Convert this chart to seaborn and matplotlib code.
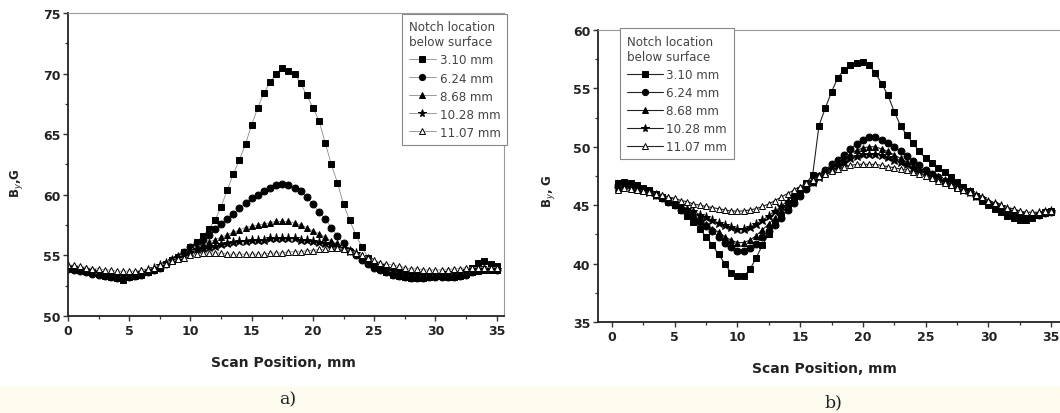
import numpy as np
import pandas as pd
import matplotlib
matplotlib.use("Agg")
import matplotlib.pyplot as plt
from matplotlib.patches import Rectangle
import seaborn as sns

# ---------------- data ----------------
series_labels = ["3.10 mm", "6.24 mm", "8.68 mm", "10.28 mm", "11.07 mm"]
legend_title = "Notch location\nbelow surface"

# panel a) scan positions (mm) and B_y (G)
x_a = np.arange(0.0, 35.01, 0.5)
a_310 = [54.0, 53.9, 53.8, 53.7, 53.6, 53.5, 53.3, 53.2, 53.1, 53.0,
         53.2, 53.3, 53.4, 53.6, 53.8, 54.0, 54.3, 54.6, 54.9, 55.3,
         55.7, 56.1, 56.6, 57.2, 57.9, 59.0, 60.4, 61.7, 62.9, 64.2,
         65.8, 67.2, 68.4, 69.3, 70.0, 70.5, 70.2, 70.0, 69.2, 68.2,
         67.2, 66.1, 64.3, 62.5, 61.0, 59.2, 57.9, 56.7, 55.7, 54.8,
         54.3, 53.9, 53.6, 53.4, 53.3, 53.2, 53.1, 53.1, 53.1, 53.2,
         53.3, 53.3, 53.2, 53.2, 53.3, 53.6, 54.0, 54.4, 54.5, 54.3, 54.1]
a_624 = [53.9, 53.8, 53.7, 53.6, 53.5, 53.4, 53.3, 53.2, 53.1, 53.1,
         53.2, 53.3, 53.4, 53.6, 53.8, 54.0, 54.3, 54.6, 54.9, 55.3,
         55.7, 56.0, 56.3, 56.7, 57.2, 57.6, 58.0, 58.4, 58.9, 59.3,
         59.7, 60.0, 60.3, 60.6, 60.8, 60.9, 60.8, 60.6, 60.3, 59.8,
         59.2, 58.6, 58.0, 57.3, 56.6, 56.0, 55.4, 55.0, 54.6, 54.3,
         54.0, 53.8, 53.6, 53.4, 53.3, 53.2, 53.1, 53.1, 53.1, 53.2,
         53.2, 53.2, 53.2, 53.2, 53.3, 53.4, 53.6, 53.8, 53.9, 53.9, 53.8]
a_868 = [54.0, 53.9, 53.8, 53.7, 53.6, 53.5, 53.4, 53.3, 53.3, 53.2,
         53.3, 53.4, 53.5, 53.7, 53.9, 54.1, 54.3, 54.6, 54.9, 55.2,
         55.5, 55.7, 55.9, 56.1, 56.3, 56.5, 56.7, 56.9, 57.1, 57.3,
         57.4, 57.5, 57.6, 57.7, 57.8, 57.8, 57.8, 57.7, 57.5, 57.3,
         57.0, 56.8, 56.5, 56.2, 56.0, 55.7, 55.4, 55.1, 54.8, 54.5,
         54.2, 54.0, 53.8, 53.6, 53.5, 53.4, 53.3, 53.3, 53.3, 53.3,
         53.4, 53.4, 53.4, 53.4, 53.5, 53.5, 53.6, 53.7, 53.8, 53.8, 53.8]
a_1028 = [54.1, 54.0, 53.9, 53.8, 53.7, 53.6, 53.5, 53.4, 53.4, 53.4,
          53.4, 53.5, 53.6, 53.8, 54.0, 54.2, 54.4, 54.6, 54.9, 55.1,
          55.3, 55.5, 55.6, 55.7, 55.8, 55.9, 56.0, 56.1, 56.2, 56.2,
          56.3, 56.3, 56.3, 56.4, 56.4, 56.4, 56.4, 56.4, 56.3, 56.3,
          56.2, 56.1, 56.0, 55.9, 55.8, 55.6, 55.4, 55.2, 54.9, 54.7,
          54.4, 54.2, 54.0, 53.8, 53.7, 53.6, 53.5, 53.5, 53.5, 53.5,
          53.5, 53.5, 53.6, 53.6, 53.6, 53.7, 53.7, 53.8, 53.9, 53.9, 53.9]
a_1107 = [54.2, 54.2, 54.1, 54.0, 53.9, 53.9, 53.8, 53.8, 53.7, 53.7,
          53.7, 53.7, 53.8, 53.9, 54.0, 54.2, 54.3, 54.5, 54.7, 54.8,
          55.0, 55.1, 55.2, 55.2, 55.2, 55.2, 55.1, 55.1, 55.1, 55.1,
          55.1, 55.1, 55.1, 55.2, 55.2, 55.2, 55.3, 55.3, 55.3, 55.4,
          55.4, 55.5, 55.5, 55.6, 55.6, 55.5, 55.4, 55.2, 55.0, 54.8,
          54.6, 54.4, 54.3, 54.2, 54.1, 54.0, 53.9, 53.9, 53.8, 53.8,
          53.8, 53.8, 53.8, 53.9, 53.9, 54.0, 54.0, 54.0, 54.0, 54.0, 54.0]

# panel b) scan positions (mm) and B_y (G)
x_b = np.arange(0.5, 35.01, 0.5)
b_310 = [46.9, 47.0, 46.9, 46.7, 46.5, 46.3, 46.0, 45.7, 45.4, 45.0,
         44.6, 44.1, 43.6, 43.0, 42.3, 41.6, 40.8, 40.0, 39.2, 38.9,
         38.9, 39.5, 40.5, 41.6, 42.5, 43.4, 44.2, 45.0, 45.7, 46.3,
         46.9, 47.6, 51.8, 53.3, 54.7, 55.9, 56.6, 57.0, 57.2, 57.3,
         57.0, 56.3, 55.4, 54.4, 53.0, 51.8, 51.0, 50.3, 49.6, 49.0,
         48.6, 48.2, 47.8, 47.4, 47.0, 46.6, 46.2, 45.8, 45.4, 45.0,
         44.7, 44.4, 44.1, 43.9, 43.7, 43.7, 43.9, 44.2, 44.4, 44.5]
b_624 = [46.7, 46.9, 46.8, 46.6, 46.4, 46.2, 45.9, 45.6, 45.3, 45.0,
         44.6, 44.3, 43.9, 43.6, 43.2, 42.8, 42.3, 41.8, 41.4, 41.1,
         41.1, 41.3, 41.7, 42.3, 42.8, 43.3, 43.9, 44.6, 45.2, 45.8,
         46.4, 47.0, 47.5, 48.0, 48.5, 48.9, 49.3, 49.8, 50.2, 50.6,
         50.8, 50.8, 50.6, 50.3, 50.0, 49.6, 49.2, 48.8, 48.4, 48.0,
         47.7, 47.4, 47.1, 46.9, 46.6, 46.4, 46.1, 45.8, 45.5, 45.2,
         45.0, 44.7, 44.4, 44.2, 44.0, 43.9, 44.0, 44.2, 44.3, 44.4]
b_868 = [46.6, 46.8, 46.7, 46.5, 46.3, 46.1, 45.9, 45.6, 45.3, 45.0,
         44.7, 44.4, 44.1, 43.7, 43.4, 43.0, 42.7, 42.3, 42.0, 41.8,
         41.8, 42.0, 42.4, 42.9, 43.4, 43.9, 44.5, 45.1, 45.6, 46.1,
         46.6, 47.1, 47.6, 48.0, 48.4, 48.8, 49.1, 49.4, 49.7, 49.9,
         50.0, 50.0, 49.8, 49.6, 49.3, 49.0, 48.7, 48.4, 48.1, 47.8,
         47.6, 47.3, 47.1, 46.8, 46.6, 46.3, 46.1, 45.8, 45.5, 45.2,
         45.0, 44.7, 44.5, 44.3, 44.1, 44.0, 44.1, 44.2, 44.3, 44.4]
b_1028 = [46.5, 46.7, 46.6, 46.5, 46.3, 46.1, 45.9, 45.7, 45.5, 45.2,
          45.0, 44.7, 44.5, 44.2, 44.0, 43.7, 43.5, 43.3, 43.1, 43.0,
          43.0, 43.1, 43.4, 43.7, 44.1, 44.5, 44.9, 45.4, 45.8, 46.2,
          46.6, 47.0, 47.4, 47.8, 48.1, 48.4, 48.7, 49.0, 49.2, 49.4,
          49.4, 49.4, 49.3, 49.1, 48.9, 48.7, 48.5, 48.2, 48.0, 47.8,
          47.5, 47.3, 47.1, 46.8, 46.6, 46.3, 46.1, 45.8, 45.6, 45.3,
          45.1, 44.9, 44.7, 44.5, 44.3, 44.2, 44.2, 44.3, 44.4, 44.5]
b_1107 = [46.3, 46.5, 46.4, 46.3, 46.2, 46.1, 46.0, 45.9, 45.7, 45.6,
          45.4, 45.3, 45.1, 45.0, 44.9, 44.8, 44.7, 44.6, 44.5, 44.5,
          44.5, 44.6, 44.7, 44.9, 45.1, 45.4, 45.7, 46.0, 46.3, 46.6,
          46.9, 47.2, 47.5, 47.7, 47.9, 48.1, 48.3, 48.4, 48.5, 48.5,
          48.5, 48.5, 48.4, 48.3, 48.2, 48.1, 48.0, 47.8, 47.7, 47.5,
          47.3, 47.1, 46.9, 46.7, 46.5, 46.3, 46.1, 45.9, 45.7, 45.4,
          45.2, 45.0, 44.8, 44.7, 44.5, 44.4, 44.4, 44.4, 44.5, 44.5]

yticks_a = [50, 55, 60, 65, 70, 75]
yticks_b = [35, 40, 45, 50, 55, 60]
xticks = [0, 5, 10, 15, 20, 25, 30, 35]

# ---------------- styling ----------------
sns.set_style("ticks")
plt.rcParams['font.family'] = ['DejaVu Sans']

W, H = 1060, 414
fig = plt.figure(figsize=(W / 100, H / 100), dpi=100)
fig.patch.set_facecolor("white")
fig.patches.append(Rectangle((0, 0), 1, 26 / H, transform=fig.transFigure,
                             facecolor="#fcfbee", edgecolor="none", zorder=0))

def px_axes(l, t, r, b):
    return fig.add_axes([l / W, 1 - b / H, (r - l) / W, (b - t) / H])

ax_a = px_axes(68, 14, 504, 317)
ax_b = px_axes(598, 31, 1060, 323)

markers = ["s", "o", "^", "*", "^"]
msizes = [4.6, 5.0, 5.0, 6.5, 5.0]
faces = ["black", "black", "black", "black", "white"]

def draw(ax, x, ys, line_color, lw):
    for y, lab, m, ms, fc in zip(ys, series_labels, markers, msizes, faces):
        df = pd.DataFrame({"x": x, "y": y})
        sns.lineplot(data=df, x="x", y="y", ax=ax, color=line_color, lw=lw,
                     marker=m, markersize=ms, markerfacecolor=fc,
                     markeredgecolor="black", markeredgewidth=0.7,
                     label=lab, legend=False)

draw(ax_a, x_a, [a_310, a_624, a_868, a_1028, a_1107], "#8a8a8a", 0.6)
draw(ax_b, x_b, [b_310, b_624, b_868, b_1028, b_1107], "#222222", 0.8)

def style_axes(ax, ylim, yticks, xlim, ylabel, show_right=True):
    ax.set_xlim(*xlim)
    ax.set_ylim(*ylim)
    ax.set_xticks(xticks)
    ax.set_yticks(yticks)
    ax.set_xticks(np.arange(2.5, 35, 5), minor=True)
    ax.set_yticks(np.arange(ylim[0] + 2.5, ylim[1], 5), minor=True)
    ax.tick_params(axis="both", which="major", direction="out", length=3.5,
                   width=1.0, color="#333333", labelsize=9, pad=2)
    ax.tick_params(axis="both", which="minor", direction="out", length=2.5,
                   width=0.9, color="#333333")
    for lab in ax.get_xticklabels() + ax.get_yticklabels():
        lab.set_fontweight("bold")
        lab.set_color("#222222")
    for side in ["left", "bottom"]:
        ax.spines[side].set_color("#222222")
        ax.spines[side].set_linewidth(1.3)
    ax.spines["top"].set_color("#9a9a9a")
    ax.spines["top"].set_linewidth(0.8)
    ax.spines["right"].set_color("#9a9a9a")
    ax.spines["right"].set_linewidth(0.8)
    ax.spines["right"].set_visible(show_right)
    ax.set_xlabel("Scan Position, mm", fontsize=10, fontweight="bold",
                  color="#222222")
    ax.set_ylabel(ylabel, fontsize=8.5, fontweight="bold", color="#222222")
    ax.set_facecolor("white")

style_axes(ax_a, (50, 75), yticks_a, (0, 35.6), "B$_y$,G")
style_axes(ax_b, (35, 60), yticks_b, (-1.1, 35.7), "B$_y$, G", show_right=False)

ax_a.xaxis.set_label_coords(0.493, -0.13)
ax_b.xaxis.set_label_coords(0.491, -0.135)
ax_a.yaxis.set_label_coords(-0.098, 0.44)
ax_b.yaxis.set_label_coords(-0.088, 0.45)

def add_legend(ax, loc, anchor, hl):
    h, l = ax.get_legend_handles_labels()
    leg = ax.legend(h, l, title=legend_title, loc=loc, bbox_to_anchor=anchor,
                    fontsize=8.6, title_fontsize=8.6, frameon=True,
                    fancybox=False, edgecolor="#888888", framealpha=1,
                    borderaxespad=0, handlelength=hl, handletextpad=0.3,
                    labelspacing=0.42, borderpad=0.55, alignment="left",
                    markerscale=0.9)
    leg.get_frame().set_linewidth(0.8)
    for t in leg.get_texts():
        t.set_color("#444444")
    leg.get_title().set_color("#444444")

add_legend(ax_a, "upper right", (1.007, 0.997), 2.3)
add_legend(ax_b, "upper left", (0.048, 1.006), 3.0)

fig.text(288 / W, 1 - 400 / H, "a)", fontsize=12.5, family="DejaVu Serif",
         ha="center", va="center", color="#222222")
fig.text(833 / W, 1 - 403 / H, "b)", fontsize=12.5, family="DejaVu Serif",
         ha="center", va="center", color="#222222")

fig.savefig("out.png", dpi=100)
